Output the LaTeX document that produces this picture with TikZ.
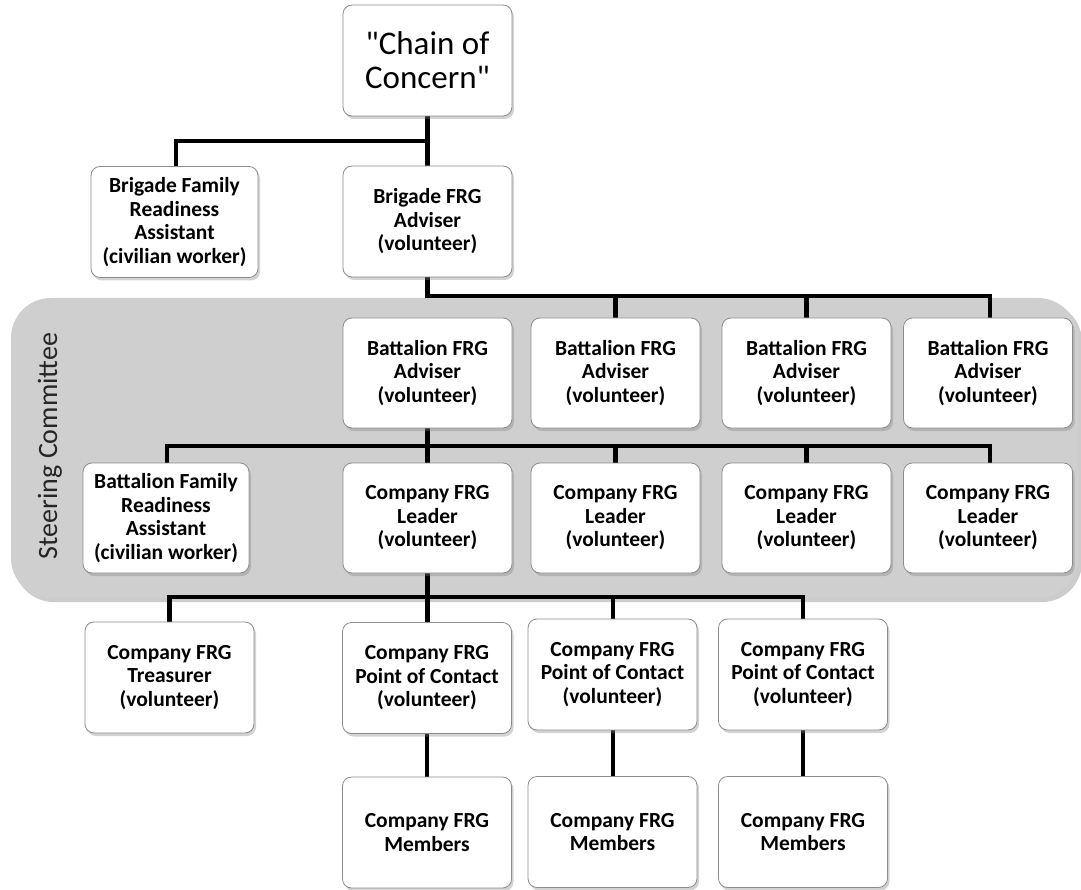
\documentclass[tikz,border=0pt]{standalone}
\usepackage{fontspec}
\setmainfont{Carlito}
\newfontfamily\chainfont{Carlito}[Ligatures=TeXOff]
\usetikzlibrary{shadows}
\tikzset{
  box/.style={rounded corners=9pt, draw=black!45, line width=0.8pt, fill=white,
    drop shadow={shadow xshift=2pt, shadow yshift=-3pt, opacity=0.35},
    align=center, inner sep=0pt, minimum width=169pt, minimum height=111pt,
    font=\fontsize{21.5}{23.5}\selectfont\bfseries},
  conn/.style={line width=4.5pt, black},
}
\begin{document}
\begin{tikzpicture}[x=1pt, y=-1pt]
\useasboundingbox (0,0) rectangle (1081,890);
% steering committee background
\fill[black!40, opacity=0.5, rounded corners=40pt] (14,302) rectangle (1082,602);
\fill[black!19, rounded corners=40pt] (11,298) rectangle (1078,598);
\node[rotate=90, font=\fontsize{28}{30}\selectfont, text=black!85] (sc) at (50,446) {Steering Committee};

% coordinates of junctions
\coordinate (j1) at (427.5,141);
\coordinate (j2) at (427.5,296);
\coordinate (j3) at (427.5,446);
\coordinate (j4) at (427.5,597);

% connectors (drawn first, behind boxes)
\draw[conn] (427.5,100) -- (427.5,200);
\draw[conn] (176,200) |- (j1);
\draw[conn] (427.5,250) -- (j2) -- (990,296) -- (990,340);
\draw[conn] (615.5,296) -- (615.5,340);
\draw[conn] (806.5,296) -- (806.5,340);
\draw[conn] (427.5,400) -- (427.5,500);
\draw[conn] (167,490) |- (j3) -- (990,446) -- (990,490);
\draw[conn] (615.5,446) -- (615.5,490);
\draw[conn] (806.5,446) -- (806.5,490);
\draw[conn] (427.5,550) -- (427.5,640);
\draw[conn] (169.5,640) |- (j4) -- (803,597) -- (803,640);
\draw[conn] (613,597) -- (613,640);
\draw[conn] (427,700) -- (427,800);
\draw[conn] (613,700) -- (613,800);
\draw[conn] (803,700) -- (803,800);

% boxes
\node[box, font=\chainfont\fontsize{33}{34}\selectfont] (chain) at (427.5,60.5) {"Chain of\\Concern"};
\node[box, minimum width=167pt] (bfra) at (174.5,222) {Brigade Family\\Readiness\\Assistant\\(civilian worker)};
\node[box] (bfrg) at (427.5,221.5) {Brigade FRG\\Adviser\\(volunteer)};

\node[box, minimum height=110pt] (ba1) at (427.5,373) {Battalion FRG\\Adviser\\(volunteer)};
\node[box, minimum height=110pt] (ba2) at (615.5,373) {Battalion FRG\\Adviser\\(volunteer)};
\node[box, minimum height=110pt] (ba3) at (806.5,373) {Battalion FRG\\Adviser\\(volunteer)};
\node[box, minimum height=110pt] (ba4) at (988,373) {Battalion FRG\\Adviser\\(volunteer)};

\node[box, minimum width=166pt, minimum height=110pt] (bfra2) at (166,518) {Battalion Family\\Readiness\\Assistant\\(civilian worker)};
\node[box, minimum height=110pt] (cl1) at (427.5,518) {Company FRG\\Leader\\(volunteer)};
\node[box, minimum height=110pt] (cl2) at (615.5,518) {Company FRG\\Leader\\(volunteer)};
\node[box, minimum height=110pt] (cl3) at (806.5,518) {Company FRG\\Leader\\(volunteer)};
\node[box, minimum height=110pt] (cl4) at (988,518) {Company FRG\\Leader\\(volunteer)};

\node[box] (tr) at (169.5,677.5) {Company FRG\\Treasurer\\(volunteer)};
\node[box] (poc1) at (427,678) {Company FRG\\Point of Contact\\(volunteer)};
\node[box] (poc2) at (612.5,674.5) {Company FRG\\Point of Contact\\(volunteer)};
\node[box] (poc3) at (803,674.5) {Company FRG\\Point of Contact\\(volunteer)};

\node[box] (mem1) at (427,832.5) {Company FRG\\Members};
\node[box] (mem2) at (612.5,832) {Company FRG\\Members};
\node[box] (mem3) at (803,832) {Company FRG\\Members};
\end{tikzpicture}
\end{document}
